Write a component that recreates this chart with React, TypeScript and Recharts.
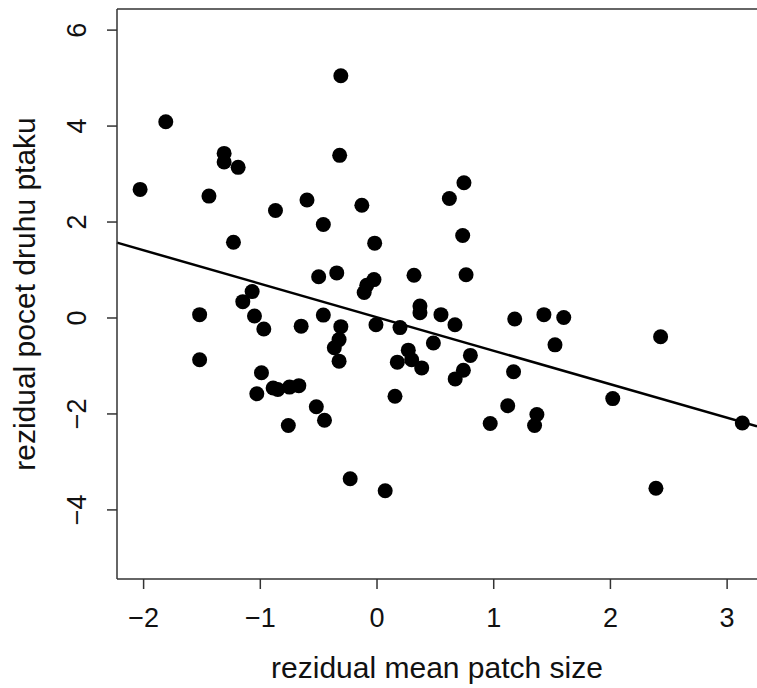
import { ScatterChart, Scatter, XAxis, YAxis, ReferenceLine } from 'recharts'

// residuals
const PATCH_SIZE = [
  -0.31, -1.81, -1.31, -1.31, -1.19, -2.03, -1.44, -0.32, -0.6, -0.87,
  -0.46, -0.13, -1.23, -0.02, -0.5, -0.345, -0.026, -0.088, -0.11, 0.317,
  -1.07, -1.15, -1.52, -1.05, -0.97, -0.65, -0.46, -0.31, -0.325, -0.366,
  -0.325, -0.009, 0.197, 0.368, 0.368, 0.548, 0.668, 0.483, 0.268, 0.297,
  0.174, 0.383, 0.154, -0.99, -1.03, -0.89, -0.85, -0.75, -0.67, -0.76,
  -0.52, -0.45, -0.23, 0.07, -1.52, 0.8, 0.74, 0.67, 1.18, 1.43,
  1.6, 1.525, 2.43, 1.17, 1.12, 0.97, 1.37, 1.35, 2.02, 2.39,
  3.13, 0.745, 0.62, 0.734, 0.763,
]
const SPECIES_COUNT = [
  5.05, 4.09, 3.43, 3.25, 3.14, 2.68, 2.54, 3.39, 2.46, 2.24,
  1.95, 2.35, 1.58, 1.56, 0.86, 0.94, 0.8, 0.68, 0.53, 0.89,
  0.55, 0.34, 0.07, 0.04, -0.23, -0.17, 0.06, -0.18, -0.45, -0.62,
  -0.9, -0.14, -0.2, 0.25, 0.11, 0.07, -0.14, -0.52, -0.67, -0.87,
  -0.92, -1.04, -1.63, -1.14, -1.58, -1.46, -1.49, -1.44, -1.41, -2.24,
  -1.85, -2.13, -3.35, -3.6, -0.87, -0.78, -1.09, -1.27, -0.02, 0.07,
  0.01, -0.56, -0.39, -1.12, -1.83, -2.2, -2.01, -2.24, -1.68, -3.55,
  -2.19, 2.82, 2.49, 1.72, 0.9,
]
const X_TICKS = [-2, -1, 0, 1, 2, 3]
const Y_TICKS = [-4, -2, 0, 2, 4, 6]
const FIT_INTERCEPT = 0.015
const FIT_SLOPE = -0.698

const X_MIN = -2.228
const X_MAX = 3.256
const Y_MIN = -5.44
const Y_MAX = 6.44

const points = PATCH_SIZE.map((x, i) => ({ x, y: SPECIES_COUNT[i] }))
const fit = [X_MIN, X_MAX].map((x) => ({ x, y: FIT_INTERCEPT + FIT_SLOPE * x }))

const FONT = '"Liberation Sans", Arial, sans-serif'
const INK = '#111'
const EDGE = '#333'
const minus = (v: number) => String(v).replace('-', '\u2212')

const Dot = (props: any) => <circle cx={props.cx} cy={props.cy} r={7.5} fill="#000" />

const XTick = ({ x, y, payload }: any) => (
  <text x={x} y={y} dy="0.71em" textAnchor="middle" fontSize={27} fill={INK} fontFamily={FONT}>
    {minus(payload.value)}
  </text>
)

const YTick = ({ x, y, payload }: any) => (
  <text x={x} y={y} transform={`rotate(-90, ${x}, ${y})`} textAnchor="middle" fontSize={27} fill={INK} fontFamily={FONT}>
    {minus(payload.value)}
  </text>
)

export default function App() {
  return (
    <div style={{ position: 'absolute', left: 0, top: 0, background: '#fff' }}>
      <ScatterChart width={757} height={688} margin={{ top: 9, right: 0, bottom: 0, left: 0 }}>
        <XAxis
          type="number"
          dataKey="x"
          domain={[X_MIN, X_MAX]}
          ticks={X_TICKS}
          allowDataOverflow
          height={109}
          tickSize={10}
          tickMargin={19}
          stroke={EDGE}
          strokeWidth={1.5}
          tick={<XTick />}
          label={({ viewBox }: any) => (
            <text x={viewBox.x + viewBox.width / 2} y={viewBox.y + 99} textAnchor="middle" fontSize={30} fill={INK} fontFamily={FONT}>
              rezidual mean patch size
            </text>
          )}
        />
        <YAxis
          type="number"
          dataKey="y"
          domain={[Y_MIN, Y_MAX]}
          ticks={Y_TICKS}
          allowDataOverflow
          width={117}
          tickSize={10}
          tickMargin={21}
          stroke={EDGE}
          strokeWidth={1.5}
          tick={<YTick />}
          label={({ viewBox }: any) => {
            const cy = viewBox.y + viewBox.height / 2
            return (
              <text x={35} y={cy} transform={`rotate(-90, 35, ${cy})`} textAnchor="middle" fontSize={30} fill={INK} fontFamily={FONT}>
                rezidual pocet druhu ptaku
              </text>
            )
          }}
        />
        <ReferenceLine y={Y_MAX} stroke={EDGE} strokeWidth={1.5} />
        <ReferenceLine segment={fit} stroke="#000" strokeWidth={2.5} />
        <Scatter data={points} shape={<Dot />} isAnimationActive={false} />
      </ScatterChart>
    </div>
  )
}
